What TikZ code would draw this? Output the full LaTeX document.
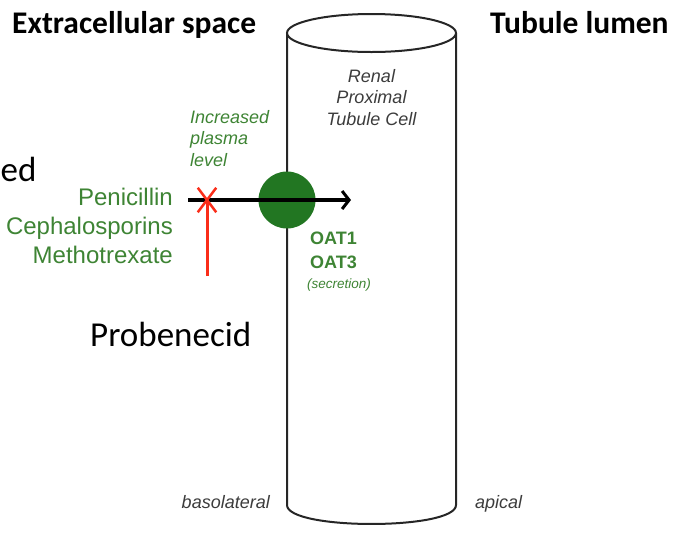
\documentclass[tikz,border=0pt]{standalone}
\usepackage{fontspec}
\setmainfont{Liberation Sans}
\newfontfamily\calibri{Carlito}
\usetikzlibrary{arrows.meta,shapes.misc}
\definecolor{drug}{RGB}{62,132,52}
\definecolor{oat}{RGB}{34,118,34}
\definecolor{note}{RGB}{60,60,60}
\definecolor{block}{RGB}{250,45,25}
\begin{document}
\begin{tikzpicture}[x=1pt,y=-1pt,inner sep=0pt,
    heading/.style={anchor=base west,font=\calibri\bfseries\fontsize{31.5}{36}\selectfont},
    slide/.style={font=\calibri\fontsize{35}{40}\selectfont},
    druglabel/.style={anchor=base east,text=drug,font=\fontsize{24}{28}\selectfont},
    sidenote/.style={text=note,font=\itshape\fontsize{18}{21.5}\selectfont},
    oatlabel/.style={anchor=base west,text=drug,font=\bfseries\fontsize{18}{22}\selectfont},
    flux/.style={line width=3.5pt,-{Straight Barb[length=7pt,width=18pt,line width=3pt]}},
    inhibit/.style={line width=3pt,draw=block}]
  \useasboundingbox (0,0) rectangle (678,542);
  % cell
  \draw[line width=2pt,draw=black!85] (287,33) -- (287,505)
    .. controls (287,530.3) and (456,530.3) .. (456,505) -- (456,33);
  \draw[line width=2pt,draw=black!85,fill=white] (371.5,33) ellipse [x radius=84.5pt,y radius=19pt];
  \node[sidenote,align=center,anchor=north] (cell) at (371.5,69) {Renal\\Proximal\\Tubule Cell};
  % titles
  \node[heading] (extra) at (12,33) {Extracellular space};
  \node[heading] (lumen) at (490,33) {Tubule lumen};
  \node[slide,anchor=base west] (cut) at (0.5,181) {ed};
  \node[slide,anchor=base west] (probenecid) at (90,346) {Probenecid};
  % drugs
  \node[druglabel] (peni) at (173,205) {Penicillin};
  \node[druglabel] (cepha) at (173,234) {Cephalosporins};
  \node[druglabel] (mtx) at (173,263) {Methotrexate};
  \node[sidenote,text=drug,align=left,anchor=north west] (plasma) at (190,110) {Increased\\plasma\\level};
  % transporter
  \node[circle,fill=oat,minimum size=57pt] (oat) at (287,200) {};
  \node[oatlabel] (oat1) at (310,244) {OAT1};
  \node[oatlabel] (oat3) at (310,268) {OAT3};
  \node[anchor=base west,text=drug,font=\itshape\fontsize{13.5}{16}\selectfont] (secr) at (307,288) {(secretion)};
  \coordinate (in) at (188,200);
  \coordinate (out) at (351,200);
  \draw[flux] (in) -- (out);
  % block
  \node[cross out,draw=block,line width=2.5pt,minimum width=16pt,minimum height=22pt] (stop) at (207,200) {};
  \coordinate (probe) at (207,276);
  \draw[inhibit] (probe) -- (stop.center);
  % sides
  \node[sidenote,anchor=base east] (baso) at (270,508) {basolateral};
  \node[sidenote,anchor=base west] (apical) at (475,508) {apical};
\end{tikzpicture}
\end{document}
